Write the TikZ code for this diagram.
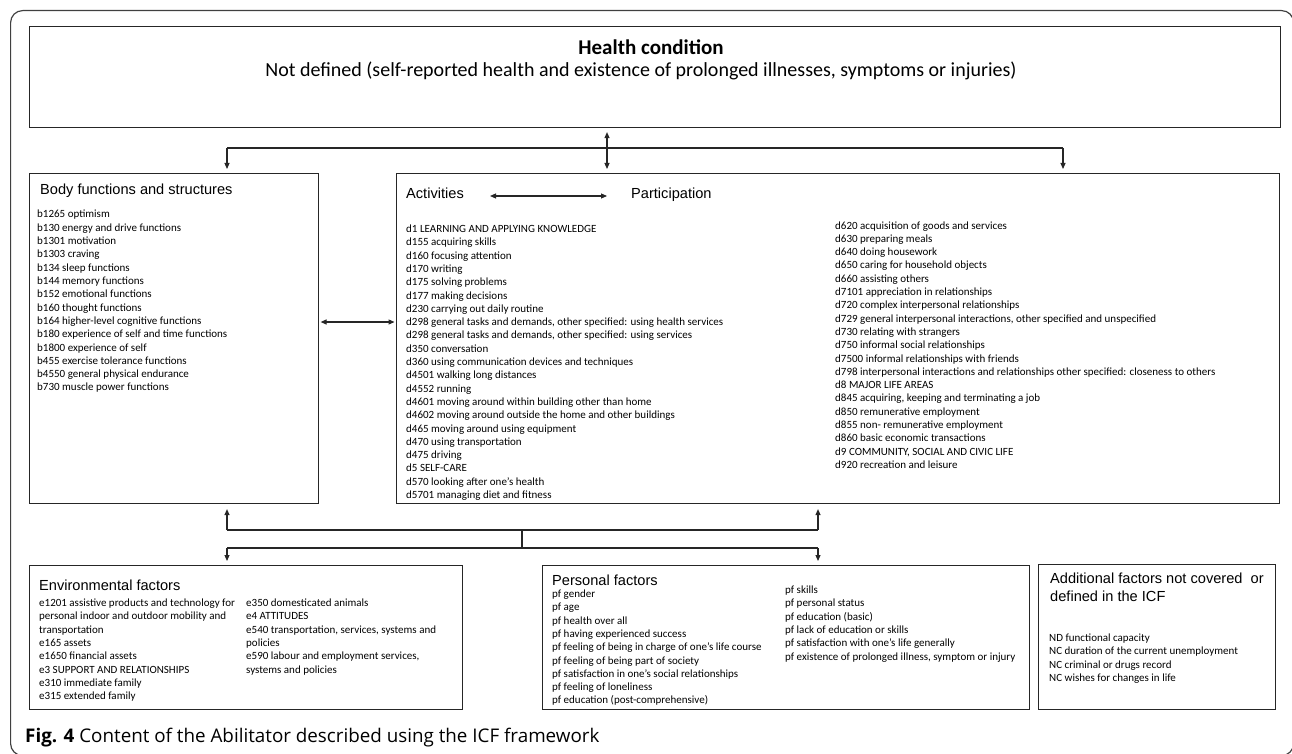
\documentclass[tikz,border=0pt]{standalone}
\usepackage{fontspec}
\setmainfont{Carlito}
\newfontfamily\titlefont{Liberation Sans}
\newfontfamily\capfont{Open Sans}
\usetikzlibrary{arrows.meta}
\newcommand\drawlist[4]{%
  \foreach \txt [count=\i from 0] in {#4} {\node[item] (#1\i) at (#2,#3+13.3*\i) {\txt};}}
\begin{document}
\begin{tikzpicture}[x=1pt,y=-1pt,
  box/.style={draw=black!85, line width=1.1pt, rectangle, anchor=north west, inner sep=0},
  item/.style={anchor=base west, inner sep=0, font=\fontsize{11}{13.3}\selectfont},
  ttl/.style={anchor=base west, inner sep=0, font=\titlefont\fontsize{14.6}{17}\selectfont},
  conn/.style={line width=1.1pt, draw=black!85},
  arr/.style={conn, -{Triangle[length=6pt,width=5pt]}},
  dbl/.style={conn, {Triangle[length=6pt,width=5pt]}-{Triangle[length=6pt,width=5pt]}},
]
\useasboundingbox (0,0) rectangle (1292,754);
% outer frame (right and bottom sides run along the picture edge)
\node[draw=black!75, line width=1.2pt, rounded corners=12pt, anchor=north west, inner sep=0,
  minimum width=1283pt, minimum height=745pt] (frame) at (10,10) {};
% boxes
\node[box, minimum width=1251pt, minimum height=101pt] (health) at (29,26) {};
\node[box, minimum width=289pt, minimum height=330pt] (body) at (29,173) {};
\node[box, minimum width=883pt, minimum height=330pt] (act) at (396,173) {};
\node[box, minimum width=433pt, minimum height=144pt] (env) at (29,565) {};
\node[box, minimum width=487pt, minimum height=144pt] (pers) at (542,565) {};
\node[box, minimum width=237pt, minimum height=145pt] (add) at (1038,564) {};
% health texts
\node[anchor=base, inner sep=0, font=\bfseries\fontsize{21}{25}\selectfont] (htitle) at (651,55) {Health condition};
\node[anchor=base, inner sep=0, font=\fontsize{20}{24}\selectfont] (hsub) at (641,77) {Not defined (self-reported health and existence of prolonged illnesses, symptoms or injuries)};
% titles
\node[ttl] (bodyt) at (40,194) {Body functions and structures};
\node[ttl] (actt) at (406,198) {Activities};
\node[ttl] (part) at (631,198) {Participation};
\node[ttl] (envt) at (39,590) {Environmental factors};
\node[ttl] (perst) at (552,585.5) {Personal factors};
\node[ttl] (addt1) at (1050,583) {Additional factors not covered\ \ or};
\node[ttl] (addt2) at (1050,601.5) {defined in the ICF};
% lists
\drawlist{bl}{37}{218}{b1265 optimism, b130 energy and drive functions, b1301 motivation, b1303 craving,
  b134 sleep functions, b144 memory functions, b152 emotional functions, b160 thought functions,
  b164 higher-level cognitive functions, b180 experience of self and time functions, b1800 experience of self,
  b455 exercise tolerance functions, b4550 general physical endurance, b730 muscle power functions}
\drawlist{al}{406}{232.5}{d1 LEARNING AND APPLYING KNOWLEDGE, d155 acquiring skills, d160 focusing attention,
  d170 writing, d175 solving problems, d177 making decisions, d230 carrying out daily routine,
  {d298 general tasks and demands, other specified: using health services},
  {d298 general tasks and demands, other specified: using services},
  d350 conversation, d360 using communication devices and techniques, d4501 walking long distances,
  d4552 running, d4601 moving around within building other than home,
  d4602 moving around outside the home and other buildings, d465 moving around using equipment,
  d470 using transportation, d475 driving, d5 SELF-CARE, d570 looking after one’s health,
  d5701 managing diet and fitness}
\drawlist{ar}{835}{229}{d620 acquisition of goods and services, d630 preparing meals, d640 doing housework,
  d650 caring for household objects, d660 assisting others, d7101 appreciation in relationships,
  d720 complex interpersonal relationships,
  {d729 general interpersonal interactions, other specified and unspecified},
  d730 relating with strangers, d750 informal social relationships, d7500 informal relationships with friends,
  d798 interpersonal interactions and relationships other specified: closeness to others,
  d8 MAJOR LIFE AREAS, {d845 acquiring, keeping and terminating a job}, d850 remunerative employment,
  d855 non- remunerative employment, d860 basic economic transactions,
  {d9 COMMUNITY, SOCIAL AND CIVIC LIFE}, d920 recreation and leisure}
\drawlist{ea}{39}{606.5}{e1201 assistive products and technology for, personal indoor and outdoor mobility and,
  transportation, e165 assets, e1650 financial assets, e3 SUPPORT AND RELATIONSHIPS,
  e310 immediate family, e315 extended family}
\drawlist{eb}{246}{606.5}{e350 domesticated animals, e4 ATTITUDES, {e540 transportation, services, systems and},
  policies, {e590 labour and employment services,}, systems and policies}
\drawlist{pa}{552}{597.5}{pf gender, pf age, pf health over all, pf having experienced success,
  pf feeling of being in charge of one’s life course, pf feeling of being part of society,
  pf satisfaction in one’s social relationships, pf feeling of loneliness, pf education (post-comprehensive)}
\drawlist{pb}{785}{593.5}{pf skills, pf personal status, pf education (basic), pf lack of education or skills,
  pf satisfaction with one’s life generally, {pf existence of prolonged illness, symptom or injury}}
\drawlist{ad}{1049}{641.5}{ND functional capacity, NC duration of the current unemployment,
  NC criminal or drugs record, NC wishes for changes in life}
% caption
\node[anchor=base west, inner sep=0, font=\capfont\fontsize{18.8}{22}\selectfont] (cap) at (25,742)
  {\textbf{Fig. 4} Content of the Abilitator described using the ICF framework};
% connector coordinates
\coordinate (tl) at (227,148);
\coordinate (tr) at (1063,148);
\coordinate (cx) at (607,148);
\coordinate (mid) at (357,322);
\coordinate (pa1) at (490,196);
\coordinate (pa2) at (607,196);
\coordinate (ul) at (227,530);
\coordinate (ur) at (818,530);
\coordinate (ju) at (522,530);
\coordinate (jl) at (522,548);
\coordinate (ll) at (227,548);
\coordinate (lr) at (818,548);
% top connectors
\draw[conn] (tl) -- (tr);
\draw[arr, shorten >=4pt] (tl) -- (tl |- body.north);
\draw[arr, shorten >=4pt] (tr) -- (tr |- act.north);
\draw[dbl, shorten <=4pt, shorten >=4pt] (health.south -| cx) -- (act.north -| cx);
% side connectors
\draw[dbl, shorten <=1.5pt, shorten >=1.5pt] (body.east |- mid) -- (act.west |- mid);
\draw[dbl] (pa1) -- (pa2);
% bottom connectors
\draw[conn] (ul) -- (ur);
\draw[arr, shorten >=5pt] (ul) -- (ul |- body.south);
\draw[arr, shorten >=5pt] (ur) -- (ur |- act.south);
\draw[conn] (ju) -- (jl);
\draw[conn] (ll) -- (lr);
\draw[arr, shorten >=4pt] (ll) -- (ll |- env.north);
\draw[arr, shorten >=4pt] (lr) -- (lr |- pers.north);
\end{tikzpicture}
\end{document}
